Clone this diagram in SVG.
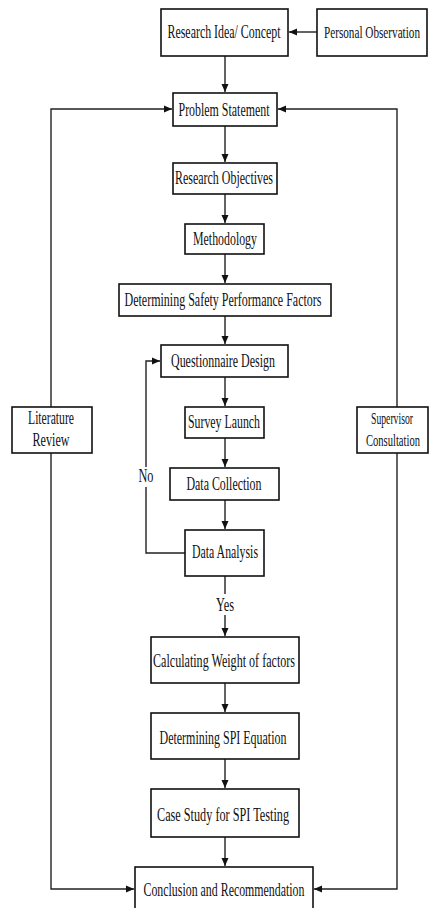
<svg xmlns="http://www.w3.org/2000/svg" width="429" height="908" viewBox="0 0 429 908">
<style>
.box{fill:#fff;stroke:#111;stroke-width:1.6}
.t{font-family:"Liberation Serif","Times New Roman",serif;font-size:18.5px;fill:#111;text-anchor:middle}
.s{font-size:17px}
.c{fill:none;stroke:#222;stroke-width:1.4}
.lbl{fill:#fff}
</style>
<defs>
<marker id="ah" markerUnits="userSpaceOnUse" markerWidth="9" markerHeight="8" refX="8" refY="4" orient="auto">
<path d="M0,0.5 L8,4 L0,7.5 z" fill="#111"/>
</marker>
</defs>
<rect width="429" height="908" fill="#fff"/>
<g id="connectors">
<line class="c" x1="317" y1="32" x2="289" y2="32" marker-end="url(#ah)"/>
<line class="c" x1="225" y1="56" x2="225" y2="92" marker-end="url(#ah)"/>
<line class="c" x1="225" y1="126" x2="225" y2="162" marker-end="url(#ah)"/>
<line class="c" x1="225" y1="194" x2="225" y2="223" marker-end="url(#ah)"/>
<line class="c" x1="225" y1="254" x2="225" y2="283" marker-end="url(#ah)"/>
<line class="c" x1="225" y1="316" x2="225" y2="344" marker-end="url(#ah)"/>
<line class="c" x1="225" y1="377" x2="225" y2="406" marker-end="url(#ah)"/>
<line class="c" x1="225" y1="438" x2="225" y2="467" marker-end="url(#ah)"/>
<line class="c" x1="225" y1="500" x2="225" y2="529" marker-end="url(#ah)"/>
<line class="c" x1="225" y1="576" x2="225" y2="636" marker-end="url(#ah)"/>
<line class="c" x1="225" y1="683" x2="225" y2="712" marker-end="url(#ah)"/>
<line class="c" x1="225" y1="759" x2="225" y2="788" marker-end="url(#ah)"/>
<line class="c" x1="225" y1="837" x2="225" y2="866" marker-end="url(#ah)"/>
<polyline class="c" points="185,553 146,553 146,361 160,361" marker-end="url(#ah)"/>
<polyline class="c" points="51,407 51,109 172,109" marker-end="url(#ah)"/>
<polyline class="c" points="51,453 51,889 134,889" marker-end="url(#ah)"/>
<polyline class="c" points="397,407 397,109 278,109" marker-end="url(#ah)"/>
<polyline class="c" points="397,453 397,889 314,889" marker-end="url(#ah)"/>
<rect class="lbl" x="136" y="467" width="20" height="20"/>
<text class="t" x="146" y="482" textLength="15" lengthAdjust="spacingAndGlyphs">No</text>
<rect class="lbl" x="213" y="594" width="24" height="21"/>
<text class="t" x="225" y="611" textLength="18" lengthAdjust="spacingAndGlyphs">Yes</text>
</g>
<g id="research-idea">
<rect class="box" x="161" y="9" width="127" height="47"/>
<text class="t" x="224" y="38" textLength="113" lengthAdjust="spacingAndGlyphs">Research Idea/ Concept</text>
</g>
<g id="personal-observation">
<rect class="box" x="317" y="9" width="110" height="47"/>
<text class="t s" x="372" y="38" textLength="96" lengthAdjust="spacingAndGlyphs">Personal Observation</text>
</g>
<g id="problem-statement">
<rect class="box" x="173" y="93" width="104" height="33"/>
<text class="t" x="224" y="116" textLength="91" lengthAdjust="spacingAndGlyphs">Problem Statement</text>
</g>
<g id="research-objectives">
<rect class="box" x="173" y="163" width="104" height="31"/>
<text class="t" x="224" y="184" textLength="98" lengthAdjust="spacingAndGlyphs">Research Objectives</text>
</g>
<g id="methodology">
<rect class="box" x="185" y="224" width="79" height="30"/>
<text class="t" x="225" y="245" textLength="64" lengthAdjust="spacingAndGlyphs">Methodology</text>
</g>
<g id="safety-factors">
<rect class="box" x="119" y="284" width="212" height="32"/>
<text class="t" x="223" y="306" textLength="197" lengthAdjust="spacingAndGlyphs">Determining Safety Performance Factors</text>
</g>
<g id="questionnaire-design">
<rect class="box" x="161" y="345" width="127" height="32"/>
<text class="t" x="223" y="367" textLength="104" lengthAdjust="spacingAndGlyphs">Questionnaire Design</text>
</g>
<g id="survey-launch">
<rect class="box" x="185" y="407" width="79" height="31"/>
<text class="t" x="224" y="428" textLength="72" lengthAdjust="spacingAndGlyphs">Survey Launch</text>
</g>
<g id="data-collection">
<rect class="box" x="170" y="468" width="109" height="32"/>
<text class="t" x="224" y="490" textLength="75" lengthAdjust="spacingAndGlyphs">Data Collection</text>
</g>
<g id="data-analysis">
<rect class="box" x="185" y="530" width="79" height="46"/>
<text class="t" x="225" y="558" textLength="66" lengthAdjust="spacingAndGlyphs">Data Analysis</text>
</g>
<g id="literature-review">
<rect class="box" x="12" y="407" width="80" height="46"/>
<text class="t" x="51" y="424" textLength="46" lengthAdjust="spacingAndGlyphs">Literature</text>
<text class="t" x="51" y="446" textLength="37" lengthAdjust="spacingAndGlyphs">Review</text>
</g>
<g id="supervisor-consultation">
<rect class="box" x="357" y="407" width="71" height="46"/>
<text class="t s" x="392" y="424" textLength="42" lengthAdjust="spacingAndGlyphs">Supervisor</text>
<text class="t s" x="393" y="446" textLength="54" lengthAdjust="spacingAndGlyphs">Consultation</text>
</g>
<g id="calculating-weight">
<rect class="box" x="151" y="637" width="148" height="46"/>
<text class="t" x="224" y="667" textLength="142" lengthAdjust="spacingAndGlyphs">Calculating Weight of factors</text>
</g>
<g id="spi-equation">
<rect class="box" x="151" y="713" width="148" height="46"/>
<text class="t" x="223" y="744" textLength="127" lengthAdjust="spacingAndGlyphs">Determining SPI Equation</text>
</g>
<g id="case-study">
<rect class="box" x="151" y="789" width="148" height="48"/>
<text class="t" x="223" y="821" textLength="132" lengthAdjust="spacingAndGlyphs">Case Study for SPI Testing</text>
</g>
<g id="conclusion">
<rect class="box" x="135" y="867" width="178" height="50"/>
<text class="t" x="224" y="896" textLength="161" lengthAdjust="spacingAndGlyphs">Conclusion and Recommendation</text>
</g>
</svg>
